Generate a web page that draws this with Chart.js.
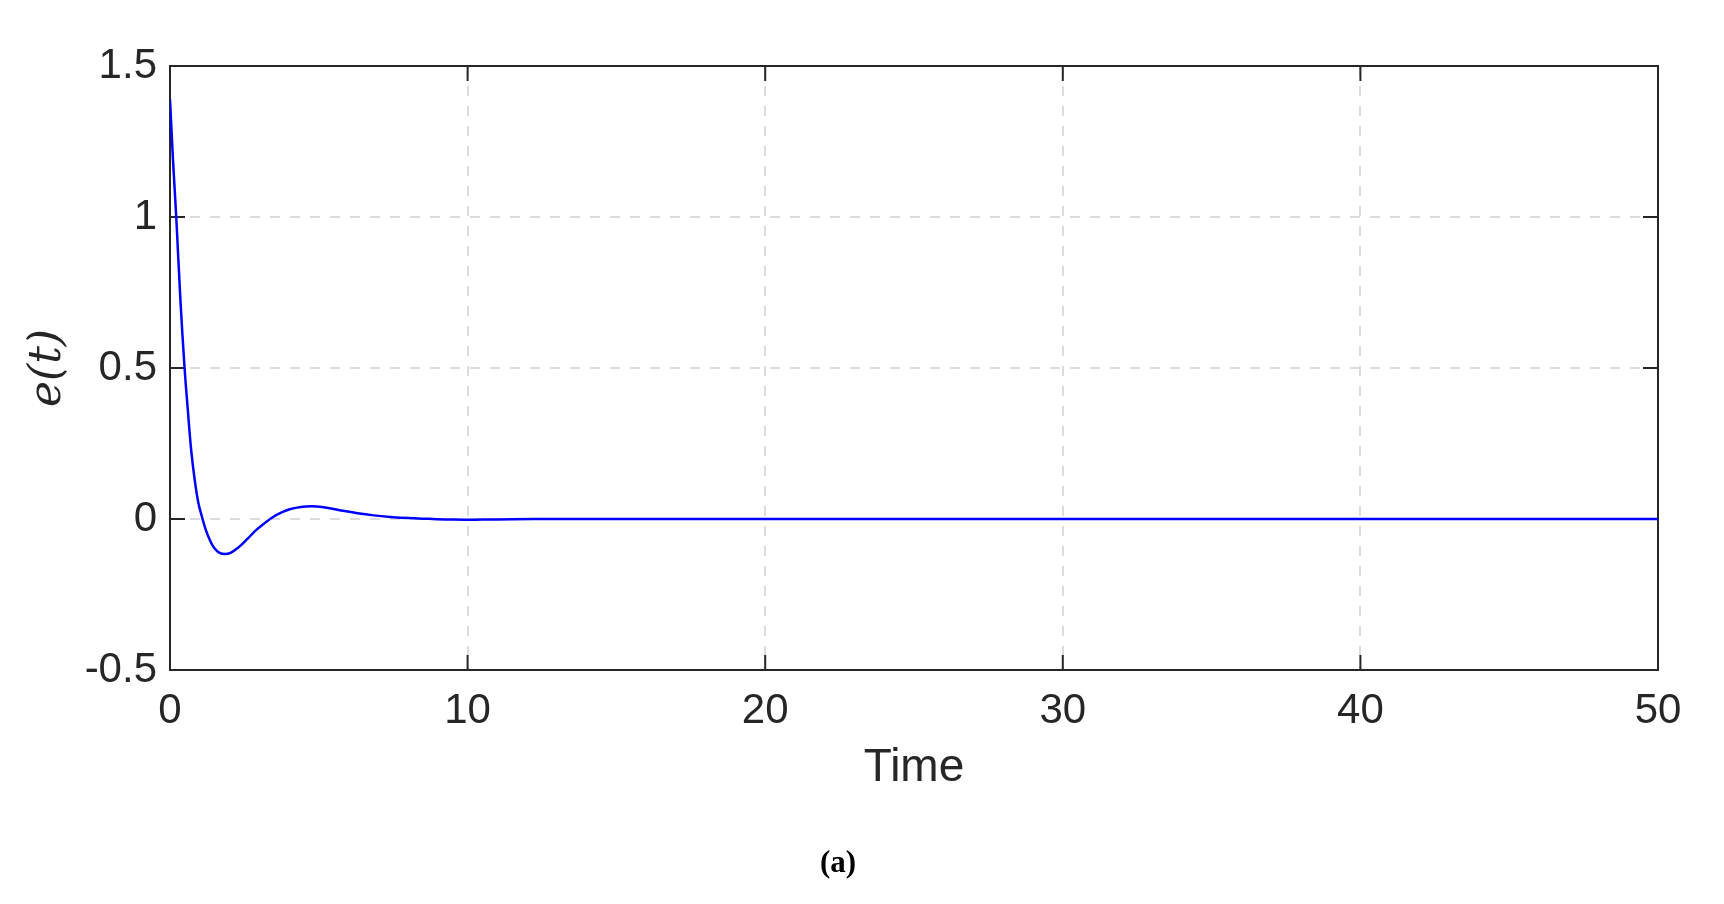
<!DOCTYPE html>
<html>
<head>
<meta charset="utf-8">
<script src="https://cdn.jsdelivr.net/npm/chart.js@4.4.1/dist/chart.umd.min.js"></script>
<style>
  html, body { margin: 0; padding: 0; background: #ffffff; }
  #wrap { width: 1724px; height: 904px; position: relative; }
</style>
</head>
<body>
<div id="wrap"><canvas id="c"></canvas></div>
<script>
// ---- data ----
const timeValues = [0, 0.1, 0.21, 0.35, 0.49, 0.6, 0.71, 0.83, 0.95, 1.08, 1.2, 1.35, 1.5, 1.65, 1.85, 2.05, 2.3, 2.6, 2.9, 3.2, 3.45, 3.75, 4.05, 4.4, 4.75, 5.1, 5.7, 6.3, 6.85, 7.4, 8.0, 8.7, 9.5, 10.5, 11.5, 13, 15, 20, 25, 30, 35, 40, 45, 50];
const errorValues = [1.39, 1.19, 1.0, 0.725, 0.5, 0.36, 0.23, 0.13, 0.055, 0.005, -0.035, -0.072, -0.098, -0.111, -0.116, -0.111, -0.094, -0.066, -0.036, -0.012, 0.006, 0.022, 0.033, 0.04, 0.042, 0.04, 0.029, 0.019, 0.012, 0.007, 0.003, 0.0005, -0.002, -0.002, -0.001, 0, 0, 0, 0, 0, 0, 0, 0, 0];
const xTickValues = [0, 10, 20, 30, 40, 50];
const xTickLabels = ['0', '10', '20', '30', '40', '50'];
const yTickValues = [-0.5, 0, 0.5, 1, 1.5];
const yTickLabels = ['-0.5', '0', '0.5', '1', '1.5'];
const xAxisTitle = 'Time';
const yAxisTitle = 'e(t)';
const panelLabel = '(a)';

const points = timeValues.map((t, i) => ({ x: t, y: errorValues[i] }));
const axisColor = '#262626';

function labelFor(values, labels, v) {
  const i = values.findIndex(x => Math.abs(x - v) < 1e-9);
  return i >= 0 ? labels[i] : '';
}

const boxPlugin = {
  id: 'boxPlugin',
  beforeDatasetsDraw(chart) {
    const { ctx, chartArea: a, scales } = chart;
    const tl = 15;
    ctx.save();
    ctx.strokeStyle = axisColor;
    ctx.lineWidth = 2;
    ctx.beginPath();
    yTickValues.forEach(v => {
      const y = scales.y.getPixelForValue(v);
      ctx.moveTo(a.left, y); ctx.lineTo(a.left + tl, y);
      ctx.moveTo(a.right, y); ctx.lineTo(a.right - tl, y);
    });
    xTickValues.forEach(v => {
      const x = scales.x.getPixelForValue(v);
      ctx.moveTo(x, a.bottom); ctx.lineTo(x, a.bottom - tl);
      ctx.moveTo(x, a.top); ctx.lineTo(x, a.top + tl);
    });
    ctx.stroke();
    ctx.strokeRect(a.left, a.top, a.right - a.left, a.bottom - a.top);
    ctx.restore();
  },
  afterDraw(chart) {
    const { ctx } = chart;
    ctx.save();
    ctx.fillStyle = '#000000';
    ctx.font = 'bold 31px "Liberation Serif", "Times New Roman", serif';
    ctx.textAlign = 'center';
    ctx.textBaseline = 'middle';
    ctx.fillText(panelLabel, 838, 864);
    ctx.restore();
  }
};

new Chart(document.getElementById('c'), {
  type: 'line',
  data: {
    datasets: [{
      data: points,
      borderColor: '#0000ff',
      borderWidth: 2.5,
      pointRadius: 0,
      fill: false,
      tension: 0.4
    }]
  },
  options: {
    responsive: true,
    maintainAspectRatio: false,
    animation: false,
    events: [],
    layout: { padding: { left: 0, right: 66, top: 66, bottom: 0 } },
    plugins: { legend: { display: false }, tooltip: { enabled: false } },
    scales: {
      x: {
        type: 'linear',
        min: 0, max: 50,
        afterBuildTicks(scale) { scale.ticks = xTickValues.map(v => ({ value: v })); },
        afterFit(scale) { scale.height = 234; },
        border: { display: false, dash: [10, 10] },
        grid: { color: '#dcdcdc', lineWidth: 2, drawTicks: false },
        ticks: {
          color: axisColor,
          font: { family: '"Liberation Sans", Arial, sans-serif', size: 42 },
          padding: 16,
          maxRotation: 0,
          autoSkip: false,
          callback: v => labelFor(xTickValues, xTickLabels, v)
        },
        title: {
          display: true,
          text: xAxisTitle,
          color: axisColor,
          font: { family: '"Liberation Sans", Arial, sans-serif', size: 46 },
          padding: { top: 0, bottom: 108 }
        }
      },
      y: {
        type: 'linear',
        min: -0.5, max: 1.5,
        afterBuildTicks(scale) { scale.ticks = yTickValues.map(v => ({ value: v })); },
        afterFit(scale) { scale.width = 170; },
        border: { display: false, dash: [10, 10] },
        grid: { color: '#dcdcdc', lineWidth: 2, drawTicks: false },
        ticks: {
          color: axisColor,
          font: { family: '"Liberation Sans", Arial, sans-serif', size: 42 },
          padding: 13,
          autoSkip: false,
          callback: v => labelFor(yTickValues, yTickLabels, v)
        },
        title: {
          display: true,
          text: yAxisTitle,
          color: axisColor,
          font: { family: '"DejaVu Serif", "Liberation Serif", serif', size: 44, style: 'italic' },
          padding: { top: 22, bottom: 0 }
        }
      }
    }
  },
  plugins: [boxPlugin]
});
</script>
</body>
</html>
